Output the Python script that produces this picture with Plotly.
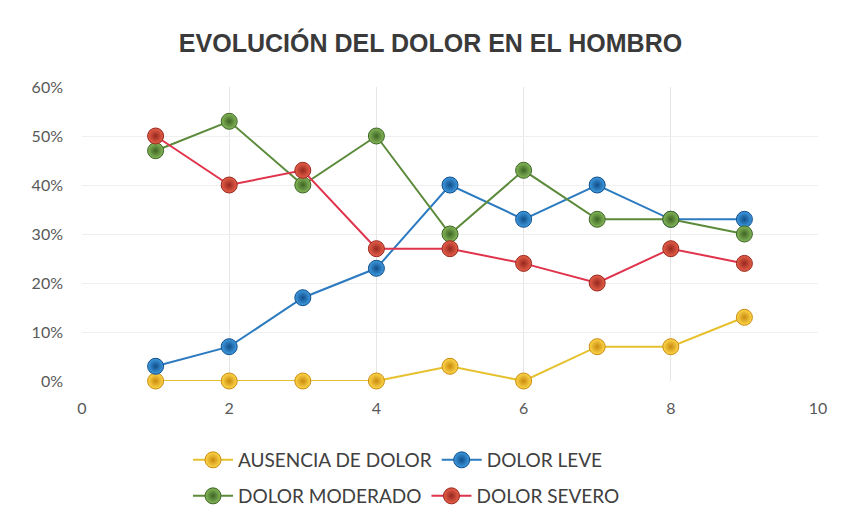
import plotly.graph_objects as go

x_vals = [1, 2, 3, 4, 5, 6, 7, 8, 9]
ausencia = [0.00, 0.00, 0.00, 0.00, 0.03, 0.00, 0.07, 0.07, 0.13]
leve = [0.03, 0.07, 0.17, 0.23, 0.40, 0.33, 0.40, 0.33, 0.33]
moderado = [0.47, 0.53, 0.40, 0.50, 0.30, 0.43, 0.33, 0.33, 0.30]
severo = [0.50, 0.40, 0.43, 0.27, 0.27, 0.24, 0.20, 0.27, 0.24]
names = ["AUSENCIA DE DOLOR", "DOLOR LEVE", "DOLOR MODERADO", "DOLOR SEVERO"]
title = "EVOLUCIÓN DEL DOLOR EN EL HOMBRO"

styles = [
    # line color, marker center, marker edge, legend
    ("#E6C12E", "#FFD84A", "#C98A10", "legend"),
    ("#2C7BC0", "#3F9BE0", "#104E8A", "legend"),
    ("#5B8A3A", "#86B85A", "#3D6424", "legend2"),
    ("#E0334C", "#E8604A", "#96281E", "legend2"),
]
series = [ausencia, leve, moderado, severo]

fig = go.Figure()
for name, ys, (lc, mc, ec, lg) in zip(names, series, styles):
    fig.add_trace(go.Scatter(
        x=x_vals, y=ys, name=name, mode="lines+markers",
        line=dict(color=lc, width=2),
        marker=dict(size=16, color=mc,
                    gradient=dict(type="radial", color=ec),
                    line=dict(color=ec, width=1)),
        legend=lg, cliponaxis=False,
    ))

font_fam = "Liberation Sans, Arial, sans-serif"
leg_font = dict(family="Lato, sans-serif", size=19, color="#404040")
tick_font = dict(family="Lato, sans-serif", size=16, color="#595959")
fig.update_layout(
    width=845, height=529,
    paper_bgcolor="white", plot_bgcolor="white",
    margin=dict(l=74, r=35, t=79, b=156, autoexpand=False),
    title=dict(text="<b>" + title + "</b>", x=0.5, xanchor="center",
               y=1 - 35 / 529, yanchor="middle",
               font=dict(family=font_fam, size=25, color="#3A3A3A")),
    xaxis=dict(range=[0, 10], tickvals=[0, 2, 4, 6, 8, 10], showgrid=True,
               gridcolor="#E6E6E6", gridwidth=1, zeroline=False, showline=False,
               ticks="", ticklabelstandoff=16, tickfont=tick_font),
    yaxis=dict(range=[0, 0.6], tickvals=[0, 0.1, 0.2, 0.3, 0.4, 0.5, 0.6],
               tickformat=".0%", showgrid=True, gridcolor="#EFEFEF", zeroline=False,
               showline=False, ticks="", ticklabelstandoff=18, tickfont=tick_font),
    legend=dict(orientation="h", xref="container", yref="container",
                x=180 / 845, xanchor="left", y=1 - 452 / 529, yanchor="middle",
                font=leg_font, itemwidth=40, traceorder="normal",
                bgcolor="rgba(0,0,0,0)"),
    legend2=dict(orientation="h", xref="container", yref="container",
                 x=180 / 845, xanchor="left", y=1 - 488 / 529, yanchor="middle",
                 font=leg_font, itemwidth=40, traceorder="normal",
                 bgcolor="rgba(0,0,0,0)"),
    showlegend=True,
)

fig.write_html("out.html")
